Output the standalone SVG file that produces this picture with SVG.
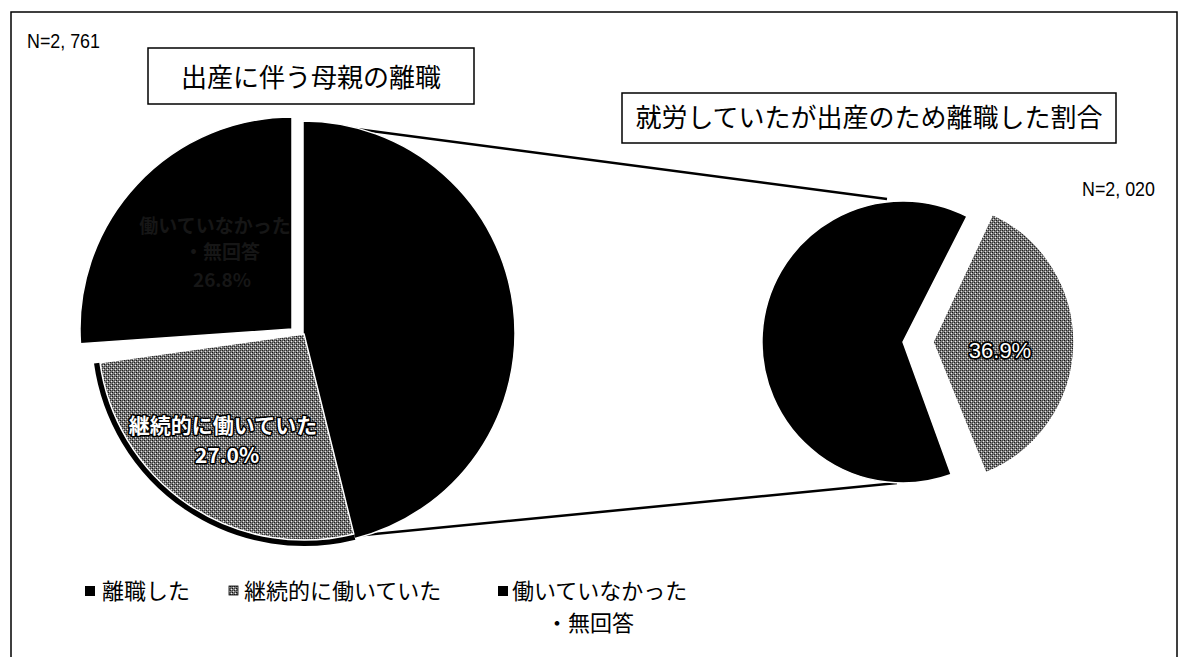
<svg xmlns="http://www.w3.org/2000/svg" width="1186" height="657" viewBox="0 0 1186 657">
<style>
.jp{font-family:"Noto Sans CJK JP","Noto Sans CJK SC",sans-serif;}
.ttl{font-size:26px;fill:#000;text-anchor:middle;}
.leg{font-size:22px;fill:#000;}
.n{font-family:"Liberation Sans","DejaVu Sans",sans-serif;font-size:21px;fill:#000;}
.lbl{font-size:21px;font-weight:bold;fill:#fff;stroke:#000;stroke-width:3;paint-order:stroke;text-anchor:middle;stroke-linejoin:round;}
.dark{font-size:19px;font-weight:bold;fill:#161616;text-anchor:middle;}
.blk{fill:#000;stroke:#fff;stroke-width:1.5;}
.gry{fill:url(#ht);stroke:#fff;stroke-width:1.5;}
.conn{stroke:#000;stroke-width:2.5;fill:none;}
</style>
<defs>
<pattern id="ht" width="4" height="4" patternUnits="userSpaceOnUse">
<rect width="4" height="4" fill="#7c7c7c"/>
<rect x="0" y="0" width="1" height="1" fill="#111"/>
<rect x="2" y="2" width="1" height="1" fill="#222"/>
<rect x="1" y="3" width="1" height="1" fill="#e0e0e0"/>
<rect x="3" y="1" width="1" height="1" fill="#eee"/>
<rect x="2" y="0" width="1" height="1" fill="#444"/>
<rect x="0" y="2" width="1" height="1" fill="#3a3a3a"/>
</pattern>
</defs>
<rect width="1186" height="657" fill="#fff"/>
<rect x="11" y="12" width="1166" height="700" fill="none" stroke="#000" stroke-width="1.5"/>

<text class="n" x="27" y="48" textLength="73" lengthAdjust="spacingAndGlyphs">N=2, 761</text>
<text class="n" x="1082" y="196" textLength="73" lengthAdjust="spacingAndGlyphs">N=2, 020</text>

<g id="title1">
<rect x="148" y="48" width="326" height="56" fill="#fff" stroke="#000" stroke-width="1.5"/>
<text class="jp ttl" x="311" y="87">出産に伴う母親の離職</text>
</g>
<g id="title2">
<rect x="622" y="93" width="494" height="50" fill="#fff" stroke="#000" stroke-width="1.5"/>
<text class="jp ttl" x="869" y="127">就労していたが出産のため離職した割合</text>
</g>

<g id="connectors">
<line class="conn" x1="303" y1="122" x2="887" y2="199"/>
<line class="conn" x1="354" y1="536" x2="897" y2="483"/>
</g>

<g id="pie-left-rishoku">
<path class="blk" d="M303,333 L303,121 A212,212 0 0 1 354.3,538.7 Z"/>
</g>
<g id="pie-left-keizoku">
<path d="M354.6,536.8 A209,209 0 0 1 97,363.1" fill="none" stroke="#000" stroke-width="6"/>
<path class="gry" d="M304,334 L353.8,533.9 A206,206 0 0 1 100,362.7 Z"/>
<text class="jp lbl" x="223" y="433">継続的に働いていた</text>
<text class="jp lbl" x="227" y="463">27.0%</text>
</g>
<g id="pie-left-hataraite-inai">
<path class="blk" d="M292,329 L80.5,343.8 A212,212 0 0 1 292,117 Z"/>
<text class="jp dark" x="215" y="233">働いていなかった</text>
<text class="jp dark" x="222" y="259">・無回答</text>
<text class="jp dark" x="222" y="287">26.8%</text>
</g>

<g id="pie-right-black">
<path class="blk" d="M903,342 L951.2,474.5 A141,141 0 1 1 967,216.4 Z"/>
</g>
<g id="pie-right-gray">
<path class="gry" d="M933,342 L992.6,214.2 A141,141 0 0 1 985.8,472.7 Z"/>
<text x="1000" y="358" font-family="Liberation Sans, Arial, sans-serif" font-size="22" fill="#fff" stroke="#000" stroke-width="3.5" paint-order="stroke" stroke-linejoin="round" text-anchor="middle">36.9%</text>
</g>

<g id="legend">
<rect x="85" y="586" width="10" height="10" fill="#000"/>
<text class="jp leg" x="102" y="599">離職した</text>
<rect x="229" y="586" width="9" height="9" fill="url(#ht)" stroke="#000" stroke-width="0.8"/>
<text class="jp leg" x="244" y="599">継続的に働いていた</text>
<rect x="498" y="586" width="10" height="10" fill="#000"/>
<text class="jp leg" x="512" y="599">働いていなかった</text>
<text class="jp leg" x="546" y="631">・無回答</text>
</g>
</svg>
